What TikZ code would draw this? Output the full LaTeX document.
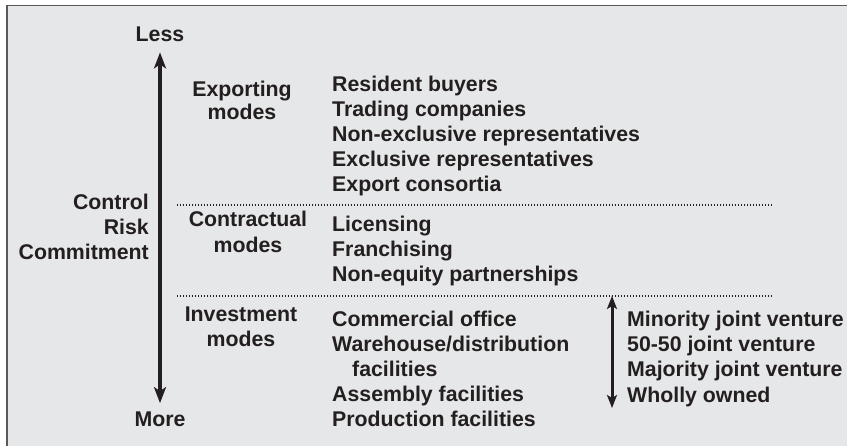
\documentclass[tikz,border=0pt]{standalone}
\usepackage{fontspec}
\setmainfont{Liberation Sans}
\usetikzlibrary{arrows.meta}
\definecolor{panel}{HTML}{E6E7E8}
\definecolor{frame}{HTML}{58595B}
\definecolor{ink}{HTML}{231F20}

\begin{document}
\begin{tikzpicture}[x=1pt, y=-1pt,
  every node/.style={font=\fontsize{21.3}{25}\selectfont\bfseries, text=ink, inner sep=0pt},
  divider/.style={ink, line width=1.1pt, dash pattern=on 1.1pt off 1.9pt},
  bigarrow/.style={ink, line width=4.2pt, {Stealth[length=16pt, width=12pt, inset=4pt]}-{Stealth[length=16pt, width=12pt, inset=4pt]}},
  smallarrow/.style={ink, line width=3pt, {Stealth[length=13pt, width=10pt, inset=3pt]}-{Stealth[length=13pt, width=10pt, inset=3pt]}}]
\useasboundingbox (0,0) rectangle (847,446);
% panel with frame on top and left
\fill[panel] (6,5) rectangle (847,446);
\draw[frame, line width=1.7pt] (6.7,446) -- (6.7,5.5) -- (847,5.5);
% scale on the left
\node[anchor=base] (less) at (160,42) {Less};
\node[anchor=base] (more) at (160,427) {More};
\draw[bigarrow, shorten <=10pt, shorten >=9pt] (less.south) -- (more.north);
\node[anchor=base east] (control) at (149,210) {Control};
\node[anchor=base east] (risk) at (149,235) {Risk};
\node[anchor=base east] (commit) at (149,260) {Commitment};
% mode headings
\node[anchor=base] (exphead) at (242,97) {Exporting};
\node[anchor=base] (exphead2) at (242,120) {modes};
\node[anchor=base] (conhead) at (248,227) {Contractual};
\node[anchor=base] (conhead2) at (248,253) {modes};
\node[anchor=base] (invhead) at (241,322) {Investment};
\node[anchor=base] (invhead2) at (241,347) {modes};
% dividers
\coordinate (divAl) at (177,205);
\coordinate (divAr) at (772,205);
\coordinate (divBl) at (177,296);
\coordinate (divBr) at (772,296);
\draw[divider] (divAl) -- (divAr);
\draw[divider] (divBl) -- (divBr);
% exporting modes
\foreach \txt [count=\k] in {Resident buyers, Trading companies, Non-exclusive representatives, Exclusive representatives, Export consortia}
  \node[anchor=base west] (exp\k) at (332,67+25*\k) {\txt};
% contractual modes
\foreach \txt [count=\k] in {Licensing, Franchising, Non-equity partnerships}
  \node[anchor=base west] (con\k) at (332,207+25*\k) {\txt};
% investment modes
\foreach \dx/\txt [count=\k] in {0/Commercial office, 0/{Warehouse/distribution}, 20/facilities, 0/Assembly facilities, 0/Production facilities}
  \node[anchor=base west] (inv\k) at (332+\dx,301+25.2*\k) {\txt};
% ownership scale
\coordinate (jvtop) at (612,296);
\coordinate (jvbot) at (612,408);
\draw[smallarrow] (jvtop) -- (jvbot);
\foreach \txt [count=\k] in {Minority joint venture, 50-50 joint venture, Majority joint venture, Wholly owned}
  \node[anchor=base west] (own\k) at (627,301+25.3*\k) {\txt};
\end{tikzpicture}
\end{document}
